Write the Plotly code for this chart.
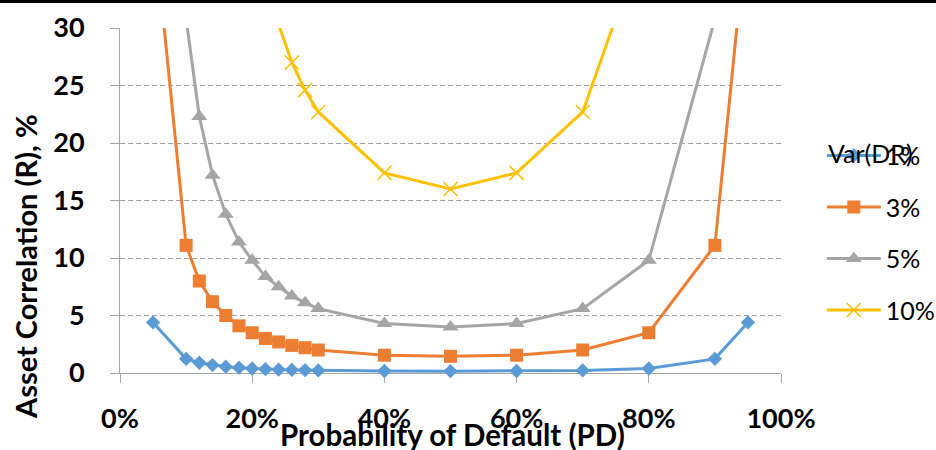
import plotly.graph_objects as go

# Probability of default grid (fraction) and the asset correlation (R, %) that
# produces each default-rate variance level.
pd_grid = [0.05, 0.10, 0.12, 0.14, 0.16, 0.18, 0.20, 0.22, 0.24, 0.26, 0.28,
           0.30, 0.40, 0.50, 0.60, 0.70, 0.80, 0.90, 0.95]
r_var1 = [4.4, 1.23, 0.89, 0.69, 0.55, 0.46, 0.39, 0.335, 0.30, 0.268, 0.245,
          0.223, 0.172, 0.16, 0.172, 0.223, 0.39, 1.23, 4.4]
r_var3 = [39.6, 11.1, 8.0, 6.2, 5.0, 4.1, 3.5, 3.0, 2.7, 2.4, 2.2,
          2.0, 1.55, 1.45, 1.55, 2.0, 3.5, 11.1, 39.6]
r_var5 = [110, 30.8, 22.3, 17.2, 13.8, 11.4, 9.8, 8.4, 7.5, 6.7, 6.1,
          5.6, 4.3, 4.0, 4.3, 5.6, 9.8, 30.8, 110]
r_var10 = [440, 123, 89, 69, 55, 45.6, 39, 33.5, 30.3, 27.0, 24.6,
           22.7, 17.4, 16.0, 17.4, 22.7, 39, 123, 440]

series_names = ["1%", "3%", "5%", "10%"]
series_values = [r_var1, r_var3, r_var5, r_var10]
series_colors = ["#5B9BD5", "#ED7D31", "#A5A5A5", "#FFC000"]
series_markers = [
    dict(symbol="diamond", size=11),
    dict(symbol="square", size=13),
    dict(symbol="triangle-up", size=14),
    dict(symbol="x-thin", size=14, line=dict(width=1.5, color="#FFC000")),
]

x_ticks = [0, 0.2, 0.4, 0.6, 0.8, 1.0]
y_ticks = [0, 5, 10, 15, 20, 25, 30]

FONT = "Lato, 'Open Sans', Arial, sans-serif"
AXIS_GREY = "#A6A6A6"

W, H = 936, 450
ML, MR, MT, MB = 120, 155, 28, 77
PW, PH = W - ML - MR, H - MT - MB


def px_to_paper_x(px):
    return (px - ML) / PW


def px_to_paper_y(py):
    return (H - MB - py) / PH


fig = go.Figure()
for i, (name, vals, color, mk) in enumerate(
        zip(series_names, series_values, series_colors, series_markers)):
    marker = dict(color=color, **mk)
    fig.add_trace(go.Scatter(
        x=pd_grid, y=vals, name=name, mode="lines+markers",
        line=dict(color=color, width=3),
        marker=marker,
        legendgroup=f"g{i}",
        cliponaxis=(i != 0),
    ))

fig.update_layout(
    width=W, height=H,
    margin=dict(l=ML, r=MR, t=MT, b=MB, pad=0, autoexpand=False),
    paper_bgcolor="white", plot_bgcolor="white",
    font=dict(family=FONT, color="black"),
    showlegend=True,
    legend=dict(
        xref="container", yref="container",
        x=0.878, y=0.705, xanchor="left", yanchor="top",
        font=dict(size=25, family=FONT, color="black"),
        tracegroupgap=16, bgcolor="rgba(0,0,0,0)",
        itemwidth=54,
    ),
    xaxis=dict(
        range=[0, 1], tickvals=x_ticks, tickformat=".0%",
        showline=True, linecolor=AXIS_GREY, linewidth=1,
        ticks="outside", ticklen=9, tickcolor=AXIS_GREY, tickwidth=1,
        showgrid=False, zeroline=False, layer="below traces",
        tickfont=dict(size=27, family=FONT, weight="bold"),
        ticklabelstandoff=13,
    ),
    yaxis=dict(
        range=[0, 30], tickvals=y_ticks,
        showline=True, linecolor=AXIS_GREY, linewidth=1,
        ticks="outside", ticklen=9, tickcolor=AXIS_GREY, tickwidth=1,
        showgrid=True, gridcolor="#A0A0A0", gridwidth=1, griddash="5px,3px",
        zeroline=False, layer="below traces",
        tickfont=dict(size=27, family=FONT, weight="bold"),
        ticklabelstandoff=20,
    ),
)

# Axis titles
fig.add_annotation(
    text="Probability of Default (PD)", xref="paper", yref="paper",
    x=px_to_paper_x(452), y=px_to_paper_y(434),
    xanchor="center", yanchor="middle", showarrow=False,
    font=dict(size=29.5, family=FONT, weight="bold"),
)
fig.add_annotation(
    text="Asset Correlation (R), %", xref="paper", yref="paper",
    x=px_to_paper_x(25), y=px_to_paper_y(267), textangle=-90,
    xanchor="center", yanchor="middle", showarrow=False,
    font=dict(size=29, family=FONT, weight="bold"),
)

# Legend heading, laid over the first legend entry
fig.add_annotation(
    text="Var(DR)", xref="paper", yref="paper",
    x=px_to_paper_x(826), y=px_to_paper_y(153),
    xanchor="left", yanchor="middle", showarrow=False,
    font=dict(size=25, family=FONT),
)

# Black rule across the top edge
fig.add_shape(
    type="line", xref="paper", yref="paper",
    x0=px_to_paper_x(0), x1=px_to_paper_x(W),
    y0=px_to_paper_y(1.5), y1=px_to_paper_y(1.5),
    line=dict(color="black", width=3),
)

fig.write_html("out.html")
